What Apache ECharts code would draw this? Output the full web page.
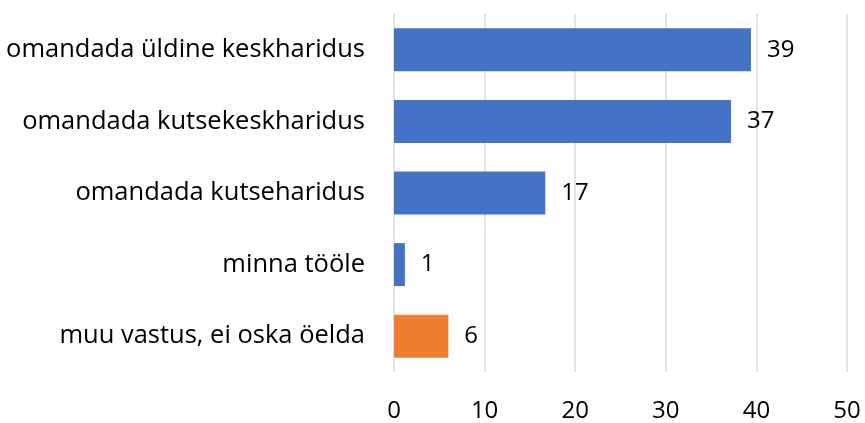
<!DOCTYPE html>
<html>
<head>
<meta charset="utf-8">
<script src="https://cdn.jsdelivr.net/npm/echarts@6/dist/echarts.min.js"></script>
<style>
  html, body { margin: 0; padding: 0; background: #fff; }
  #main { width: 865px; height: 423px; }
</style>
</head>
<body>
<div id="main"></div>
<script>
// categories top to bottom
var categories = [
  'omandada üldine keskharidus',
  'omandada kutsekeskharidus',
  'omandada kutseharidus',
  'minna tööle',
  'muu vastus, ei oska öelda'
];
// bar lengths (labels show them rounded)
var values = [39.4, 37.2, 16.7, 1.2, 6.0];
var xTicks = [0, 10, 20, 30, 40, 50];

var otherCategory = 'muu vastus, ei oska öelda';

var chart = echarts.init(document.getElementById('main'));
var font = '"Open Sans", "Noto Sans", sans-serif';

var option = {
  animation: false,
  grid: { left: 394, right: 18, top: 14, bottom: 49, containLabel: false },
  xAxis: {
    type: 'value',
    min: xTicks[0],
    max: xTicks[xTicks.length - 1],
    interval: 10,
    axisLine: { show: false },
    axisTick: { show: false },
    splitLine: { lineStyle: { color: '#d9d9d9', width: 1.5 } },
    axisLabel: { color: '#000', fontSize: 24, fontFamily: font, margin: 27 }
  },
  yAxis: {
    type: 'category',
    inverse: true,
    data: categories,
    axisLine: { show: false },
    axisTick: { show: false },
    axisLabel: { color: '#000', fontSize: 25.5, fontFamily: font, margin: 29 }
  },
  series: [{
    type: 'bar',
    data: values,
    barCategoryGap: '40%',
    itemStyle: {
      color: function (p) {
        return p.name === otherCategory ? '#ED7D31' : '#4472C4';
      }
    },
    label: {
      show: true,
      position: 'right',
      distance: 16,
      color: '#000',
      fontSize: 24,
      fontFamily: font,
      formatter: function (p) { return Math.round(p.value); }
    }
  }]
};

chart.setOption(option);
</script>
</body>
</html>
